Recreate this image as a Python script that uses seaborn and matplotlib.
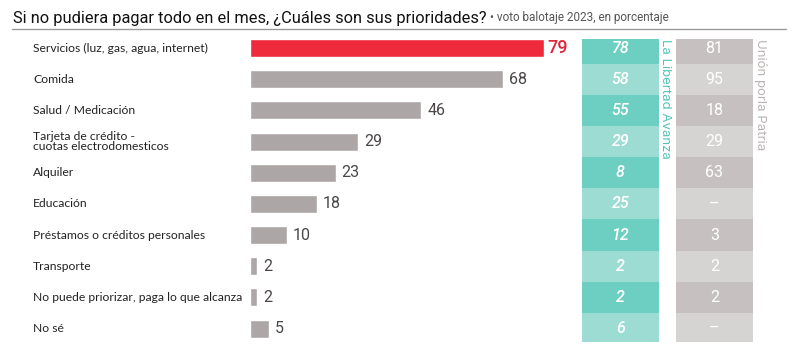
import numpy as np
import pandas as pd
import seaborn as sns
import matplotlib.pyplot as plt
from matplotlib.colors import ListedColormap
from matplotlib.lines import Line2D
from matplotlib import transforms

# Datos
categorias = ['Servicios (luz, gas, agua, internet)', 'Comida', 'Salud / Medicación',
              'Tarjeta de crédito -\ncuotas electrodomesticos', 'Alquiler', 'Educación',
              'Préstamos o créditos personales', 'Transporte',
              'No puede priorizar, paga lo que alcanza', 'No sé']
total = [79, 68, 46, 29, 23, 18, 10, 2, 2, 5]
lla = ['78', '58', '55', '29', '8', '25', '12', '2', '2', '6']
uxp = ['81', '95', '18', '29', '63', '–', '3', '2', '2', '–']

sns.set_theme(style='white')
plt.rcParams['font.family'] = ['Lato', 'DejaVu Sans']

fig = plt.figure(figsize=(8, 3.55), dpi=100)

# posiciones en pixeles -> fracciones
top_px, bot_px = 39, 342
ylim = (9.43, -0.29)
bottom = 1 - bot_px / 355
height = (bot_px - top_px) / 355

# Barras
ax = fig.add_axes([250 / 800, bottom, 325 / 800, height])
df = pd.DataFrame({'cat': categorias, 'val': total})
colores = ['#ee2a3c'] + ['#aca7a6'] * (len(total) - 1)
sns.barplot(data=df, x='val', y='cat', hue='cat', palette=colores, legend=False,
            orient='h', width=0.58, ax=ax, saturation=1)
ax.set_xlim(0, 325 / 3.72)
ax.set_ylim(*ylim)
ax.set_xlabel('')
ax.set_ylabel('')
ax.set_xticks([])
ax.set_yticks([])
sns.despine(ax=ax, left=True, bottom=True)

for i, v in enumerate(total):
    if i == 0:
        ax.text(v + 1.0, i, str(v), va='center', ha='left', fontsize=13,
                color='#e0263a', family='Roboto', fontweight='medium')
    else:
        ax.text(v + 1.6, i, str(v), va='center', ha='left', fontsize=11.5,
                color='#4a4646', family='Roboto')

# etiquetas de categorias
trans = transforms.blended_transform_factory(fig.transFigure, ax.transData)
for i, c in enumerate(categorias):
    ax.text(33 / 800, i, c, transform=trans, va='center', ha='left', fontsize=8.7,
            color='#222222', linespacing=0.92)

# Columnas de votantes
paridad = np.array([[i % 2] for i in range(len(categorias))])

ax_lla = fig.add_axes([582 / 800, bottom, 77 / 800, height])
sns.heatmap(paridad, cmap=ListedColormap(['#6ccfc1', '#9ddcd3']), cbar=False,
            annot=np.array(lla).reshape(-1, 1), fmt='', ax=ax_lla,
            xticklabels=False, yticklabels=False,
            annot_kws={'color': 'white', 'fontsize': 11.5, 'style': 'italic',
                       'family': 'Roboto', 'fontweight': 'medium'})
ax_lla.set_ylim(ylim[0] + 0.5, ylim[1] + 0.5)

ax_uxp = fig.add_axes([676 / 800, bottom, 77 / 800, height])
sns.heatmap(paridad, cmap=ListedColormap(['#c6c1c0', '#d6d3d3']), cbar=False,
            annot=np.array(uxp).reshape(-1, 1), fmt='', ax=ax_uxp,
            xticklabels=False, yticklabels=False,
            annot_kws={'color': 'white', 'fontsize': 11.5, 'family': 'Roboto'})
ax_uxp.set_ylim(ylim[0] + 0.5, ylim[1] + 0.5)

fig.text(665 / 800, 1 - 39 / 355, 'La Libertad Avanza', rotation=270, ha='center',
         va='top', fontsize=9.5, color='#55c4b5', family='Inter')
fig.text(761 / 800, 1 - 39 / 355, 'Unión porla Patria', rotation=270, ha='center',
         va='top', fontsize=9.5, color='#b9b4b4', family='Inter')

# Titulo
titulo = fig.text(13 / 800, 1 - 18 / 355, 'Si no pudiera pagar todo en el mes, ¿Cuáles son sus prioridades?',
                  ha='left', va='center', fontsize=11.8, color='#111111', family='Roboto')
fig.canvas.draw()
bb = titulo.get_window_extent()
fig.text((bb.x1 + 4) / 800, 1 - 18 / 355, '• voto balotaje 2023, en porcentaje',
         ha='left', va='center', fontsize=8.5, color='#555555', family='Roboto')
fig.add_artist(Line2D([12 / 800, 786 / 800], [1 - 29 / 355, 1 - 29 / 355],
                      color='#9a9a9a', lw=1, transform=fig.transFigure))

plt.savefig('out.png', dpi=100)
